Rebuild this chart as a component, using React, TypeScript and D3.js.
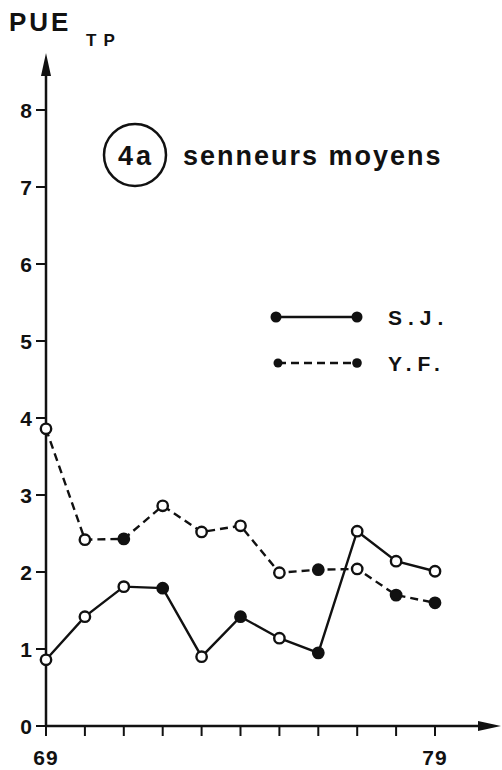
import React from "react";
import * as d3 from "d3";

const years = [69, 70, 71, 72, 73, 74, 75, 76, 77, 78, 79];
const sjValues = [0.86, 1.42, 1.81, 1.79, 0.9, 1.42, 1.14, 0.95, 2.53, 2.14, 2.01];
const yfValues = [3.86, 2.42, 2.43, 2.86, 2.52, 2.6, 1.99, 2.03, 2.04, 1.7, 1.6];
const sjFilled = [false, false, false, true, false, true, false, true, false, false, false];
const yfFilled = [false, false, true, false, false, false, false, true, false, true, true];
const yTicks = [0, 1, 2, 3, 4, 5, 6, 7, 8];
const xLabels = [69, 79];

const W = 502;
const H = 770;
const FONT = "'Liberation Sans', Arial, sans-serif";
const INK = "#111";

export default function App() {
  const x = d3.scaleLinear().domain([69, 79]).range([46, 435]);
  const y = d3.scaleLinear().domain([0, 8]).range([726, 110]);
  const line = d3
    .line<number>()
    .x((_, i) => x(years[i]))
    .y((d) => y(d));

  const x0 = x(69);
  const y0 = y(0);

  return (
    <svg
      width={W}
      height={H}
      style={{ position: "absolute", left: 0, top: 0, background: "#fff" }}
      fontFamily={FONT}
    >
      {/* axes */}
      <line x1={x0} y1={y0} x2={x0} y2={62} stroke={INK} strokeWidth={2.5} />
      <path d={`M${x0},53 L${x0 - 5},76 L${x0 + 5},76 Z`} fill={INK} />
      <line x1={x0} y1={y0} x2={490} y2={y0} stroke={INK} strokeWidth={2.5} />
      <path d={`M501,${y0} L478,${y0 - 5} L478,${y0 + 5} Z`} fill={INK} />

      {yTicks.map((t) => (
        <g key={t}>
          <line x1={x0 - 10} x2={x0} y1={y(t)} y2={y(t)} stroke={INK} strokeWidth={2} />
          <text
            x={x0 - 14}
            y={y(t) + 7.5}
            textAnchor="end"
            fontSize={21}
            fontWeight="bold"
            fill={INK}
          >
            {t}
          </text>
        </g>
      ))}
      {years.map((yr) => (
        <line key={yr} x1={x(yr)} x2={x(yr)} y1={y0} y2={y0 + 10} stroke={INK} strokeWidth={2} />
      ))}
      {xLabels.map((yr) => (
        <text
          key={yr}
          x={x(yr)}
          y={765}
          textAnchor="middle"
          fontSize={21}
          fontWeight="bold"
          fill={INK}
          letterSpacing={1}
        >
          {yr}
        </text>
      ))}

      {/* axis title */}
      <text x={9} y={31} fontSize={26} fontWeight="bold" fill={INK} letterSpacing={3}>
        PUE
      </text>
      <text x={86} y={46} fontSize={17} fontWeight="bold" fill={INK} letterSpacing={7}>
        TP
      </text>

      {/* chart title */}
      <circle cx={135} cy={155} r={31} fill="none" stroke={INK} strokeWidth={2.5} />
      <text x={136} y={165} textAnchor="middle" fontSize={27} fontWeight="bold" fill={INK} letterSpacing={3}>
        4a
      </text>
      <text x={183} y={165} fontSize={27} fontWeight="bold" fill={INK} letterSpacing={2}>
        senneurs moyens
      </text>

      {/* series */}
      <path d={line(sjValues) || ""} fill="none" stroke={INK} strokeWidth={2.4} />
      <path
        d={line(yfValues) || ""}
        fill="none"
        stroke={INK}
        strokeWidth={2.4}
        strokeDasharray="8,5"
      />
      {sjValues.map((v, i) => (
        <circle
          key={"sj" + i}
          cx={x(years[i])}
          cy={y(v)}
          r={5.2}
          fill={sjFilled[i] ? INK : "#fff"}
          stroke={INK}
          strokeWidth={2.4}
        />
      ))}
      {yfValues.map((v, i) => (
        <circle
          key={"yf" + i}
          cx={x(years[i])}
          cy={y(v)}
          r={5.2}
          fill={yfFilled[i] ? INK : "#fff"}
          stroke={INK}
          strokeWidth={2.4}
        />
      ))}

      {/* legend */}
      <line x1={276} x2={357} y1={317} y2={317} stroke={INK} strokeWidth={2.4} />
      <circle cx={276} cy={317} r={5.5} fill={INK} />
      <circle cx={357} cy={317} r={5.5} fill={INK} />
      <text x={388} y={325} fontSize={21} fontWeight="bold" fill={INK} letterSpacing={6}>
        S.J.
      </text>
      <line x1={278} x2={357} y1={363} y2={363} stroke={INK} strokeWidth={2.4} strokeDasharray="8,5" />
      <circle cx={278} cy={363} r={4.5} fill={INK} />
      <circle cx={357} cy={363} r={4.8} fill={INK} />
      <text x={388} y={371} fontSize={21} fontWeight="bold" fill={INK} letterSpacing={6}>
        Y.F.
      </text>
    </svg>
  );
}
